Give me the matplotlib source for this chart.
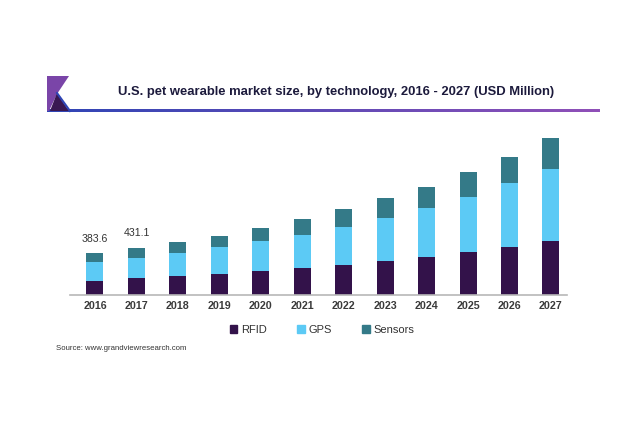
import matplotlib
matplotlib.use("Agg")
import matplotlib.pyplot as plt
import numpy as np
from matplotlib.patches import Polygon, Patch
from matplotlib.colors import to_rgb

plt.rcParams['font.family'] = ['Liberation Sans', 'DejaVu Sans']

years = ['2016', '2017', '2018', '2019', '2020', '2021', '2022', '2023', '2024', '2025', '2026', '2027']
rfid = [131.6, 154, 175, 193, 218, 246, 276, 310, 352, 396, 444, 500]
gps = [169.3, 187, 209, 246, 276, 304, 352, 396, 448, 509, 583, 660]
sensors = [82.7, 90.1, 101, 104, 120, 147, 160, 184, 196, 227, 245, 282]
labels = {0: '383.6', 1: '431.1'}

c_rfid = '#33124a'
c_gps = '#5ccaf5'
c_sens = '#347a88'

W, H = 640, 437
fig = plt.figure(figsize=(W / 100, H / 100), dpi=100)

ax = fig.add_axes([70 / W, 1 - 295 / H, 497 / W, 163 / H])
x = np.arange(len(years))
rf = np.array(rfid); gp = np.array(gps); se = np.array(sensors)
bw = 0.41
ax.bar(x, rf, bw, color=c_rfid, label='RFID')
ax.bar(x, gp, bw, bottom=rf, color=c_gps, label='GPS')
ax.bar(x, se, bw, bottom=rf + gp, color=c_sens, label='Sensors')
tot = rf + gp + se
for i, t in labels.items():
    ax.text(x[i], tot[i] + 90, t, ha='center', va='bottom', fontsize=7.6, color='#333333')

ax.set_xlim(-0.603, 11.387)
ax.set_ylim(0, 1500)
ax.set_yticks([])
ax.set_xticks(x)
ax.set_xticklabels(years, fontsize=7.7, fontweight='bold', color='#3a3a3a')
ax.tick_params(axis='x', length=0, pad=4)
for s in ['top', 'left', 'right']:
    ax.spines[s].set_visible(False)
ax.spines['bottom'].set_color('#b8b8b8')
ax.spines['bottom'].set_linewidth(1.2)

# overlay for decorations
ov = fig.add_axes([0, 0, 1, 1], zorder=-1)
ov.set_xlim(0, W); ov.set_ylim(H, 0); ov.axis('off')

# gradient line under title
c1 = np.array(to_rgb('#2f45b5')); c2 = np.array(to_rgb('#9050b8'))
t = np.linspace(0, 1, 300)[None, :, None]
grad = c1[None, None, :] + (c2 - c1)[None, None, :] * t
ov.imshow(grad, extent=[47, 600, 111.6, 109.4], aspect='auto', interpolation='bilinear')
ov.set_xlim(0, W); ov.set_ylim(H, 0)

# logo
ov.add_patch(Polygon([(47, 76), (69, 76), (57, 94), (49, 111), (47, 111)], closed=True, color='#7a45a8', lw=0))
ov.add_patch(Polygon([(57, 93), (50, 111), (69, 111)], closed=True, color='#3a1852', lw=0))
ov.plot([57, 70], [93, 111], color='#2f45b5', lw=1.5)

fig.text(336.5 / W, 1 - 92 / H, 'U.S. pet wearable market size, by technology, 2016 - 2027 (USD Million)',
         ha='center', va='center', fontsize=9.35, fontweight='bold', color='#1c1a3c')

handles = [Patch(color=c_rfid, label='RFID'), Patch(color=c_gps, label='GPS'), Patch(color=c_sens, label='Sensors')]
fig.legend(handles=handles, loc='center', bbox_to_anchor=(322 / W, 1 - 330 / H), ncol=3, frameon=False,
           fontsize=8, handlelength=0.7, handleheight=0.7, handletextpad=0.35, columnspacing=2.7,
           labelcolor='#333333')

fig.text(56 / W, 1 - 349 / H, 'Source: www.grandviewresearch.com', ha='left', va='center',
         fontsize=5.6, color='#333333')

fig.savefig('out.png', dpi=100)
